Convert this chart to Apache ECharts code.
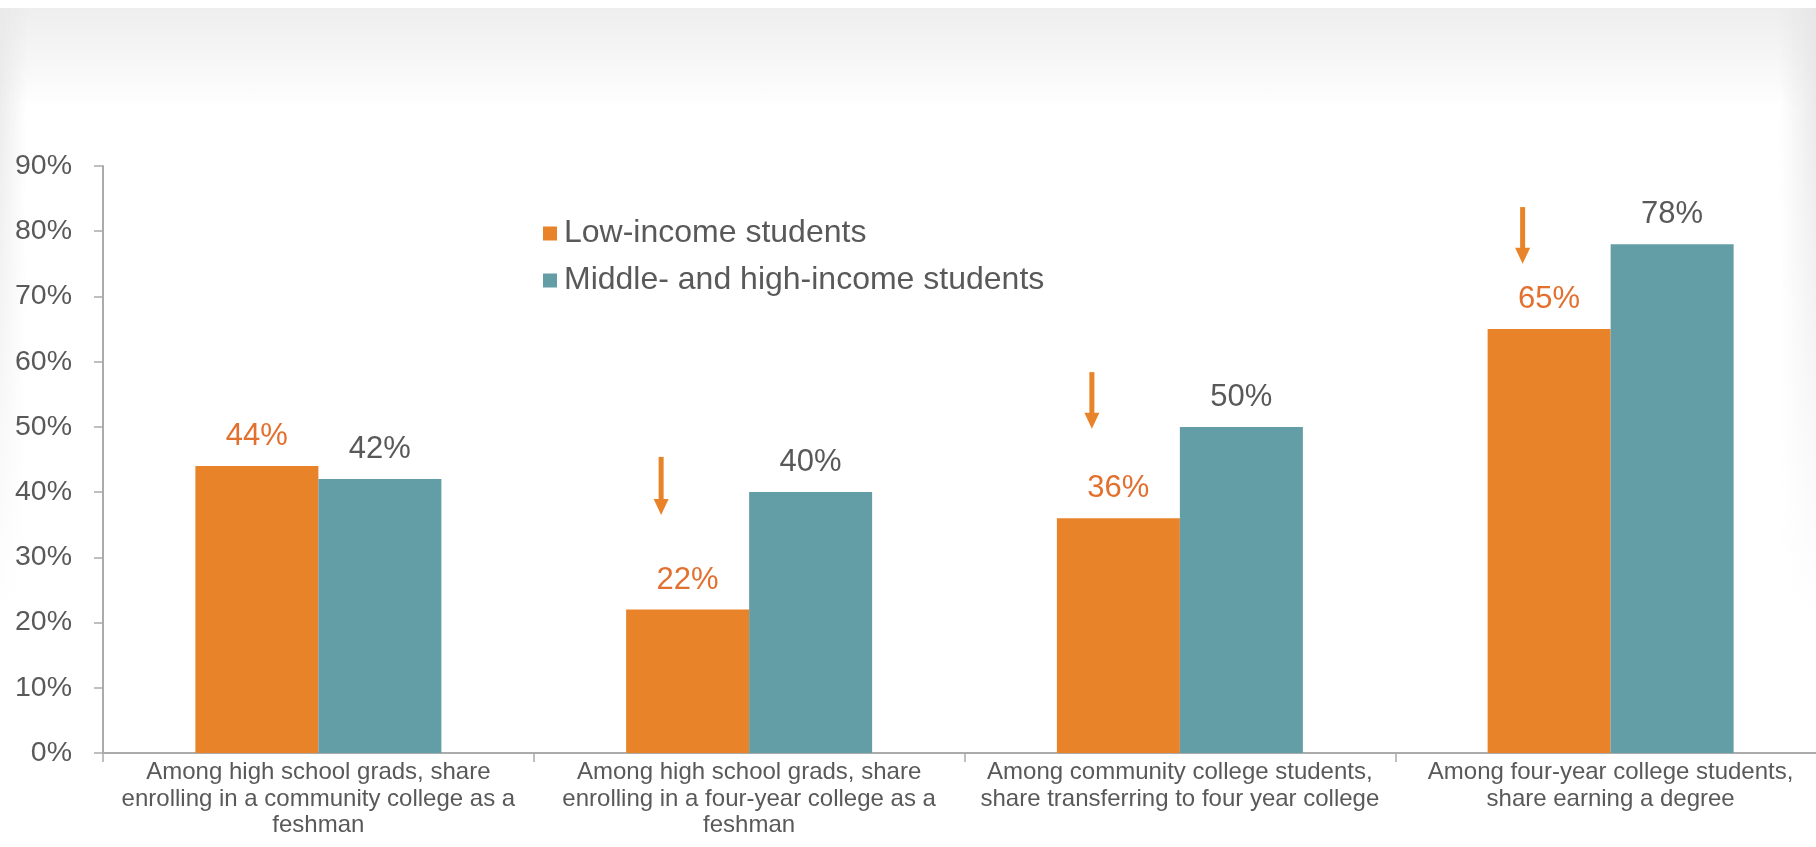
<!DOCTYPE html>
<html>
<head>
<meta charset="utf-8">
<title>College pathway shares by income</title>
<script src="https://cdn.jsdelivr.net/npm/echarts@6/dist/echarts.min.js"></script>
<style>
  html, body { margin: 0; padding: 0; background: #ffffff; }
  #stage { position: relative; width: 1816px; height: 847px; overflow: hidden; background: #ffffff; }
  .haze { position: absolute; pointer-events: none; }
  #hazeTop { left: 0; top: 8px; width: 1816px; height: 100px;
    background: linear-gradient(to bottom, #eeeeee 0%, #f5f5f5 45%, #ffffff 100%); }
  #hazeLeft { left: 0; top: 8px; width: 26px; height: 620px;
    background: linear-gradient(to right, #e9e9e9, rgba(255,255,255,0));
    -webkit-mask-image: linear-gradient(to bottom, #000 0%, rgba(0,0,0,0) 100%);
    mask-image: linear-gradient(to bottom, #000 0%, rgba(0,0,0,0) 100%); }
  #hazeRight { right: 0; top: 8px; width: 36px; height: 620px;
    background: linear-gradient(to left, #e6e6e6, rgba(255,255,255,0));
    -webkit-mask-image: linear-gradient(to bottom, #000 0%, rgba(0,0,0,0) 100%);
    mask-image: linear-gradient(to bottom, #000 0%, rgba(0,0,0,0) 100%); }
  #chart { position: absolute; left: 0; top: 0; width: 1816px; height: 847px; }
</style>
</head>
<body>
<div id="stage">
  <div class="haze" id="hazeTop"></div>
  <div class="haze" id="hazeLeft"></div>
  <div class="haze" id="hazeRight"></div>
  <div id="chart"></div>
</div>
<script>
// Pathway stages along the x axis
const categories = [
  'Among high school grads, share\nenrolling in a community college as a\nfeshman',
  'Among high school grads, share\nenrolling in a four-year college as a\nfeshman',
  'Among community college students,\nshare transferring to four year college',
  'Among four-year college students,\nshare earning a degree'
];

// Shares in percent
const lowIncome = [44, 22, 36, 65];
const midHighIncome = [42, 40, 50, 78];

// Y axis range and step (percent)
const yMin = 0;
const yMax = 90;
const yStep = 10;

// Downward call-out arrows over the low-income bars: [stage index, tail %, tip %]
const arrowStages = [1, 2, 3];
const arrowTail = [45.4, 58.4, 83.7];
const arrowTip = [36.5, 49.7, 75.0];

const ORANGE = '#E8832A';
const TEAL = '#639EA6';
const ORANGE_TEXT = '#E2702F';
const GRAY_TEXT = '#595959';
const AXIS_GRAY = '#ABABAB';
const FONT = '"Liberation Sans", Arial, Helvetica, sans-serif';

const arrowData = arrowStages.map((s, i) => [s, arrowTail[i], arrowTip[i]]);

const chart = echarts.init(document.getElementById('chart'), null, { renderer: 'canvas' });

chart.setOption({
  backgroundColor: 'transparent',
  animation: false,
  textStyle: { fontFamily: FONT },
  grid: { left: 103, right: -10, top: 166, bottom: 94, containLabel: false, outerBoundsMode: 'none' },
  legend: {
    orient: 'vertical',
    left: 538,
    top: 212,
    icon: 'rect',
    itemWidth: 14,
    itemHeight: 14,
    itemGap: 14,
    data: ['Low-income students', 'Middle- and high-income students'],
    textStyle: { fontFamily: FONT, fontSize: 32, lineHeight: 33, color: GRAY_TEXT, padding: [0, 0, 0, 2] }
  },
  xAxis: {
    type: 'category',
    data: categories,
    boundaryGap: true,
    axisLine: { show: true, lineStyle: { color: AXIS_GRAY, width: 2 } },
    axisTick: { show: true, length: 9, interval: 0, lineStyle: { color: AXIS_GRAY, width: 1.5 } },
    axisLabel: {
      interval: 0,
      margin: 6,
      fontFamily: FONT,
      fontSize: 24,
      lineHeight: 26.6,
      color: GRAY_TEXT,
      align: 'center'
    },
    splitLine: { show: false }
  },
  yAxis: {
    type: 'value',
    min: yMin,
    max: yMax,
    interval: yStep,
    axisLine: { show: true, lineStyle: { color: AXIS_GRAY, width: 2 } },
    axisTick: { show: true, length: 9, lineStyle: { color: AXIS_GRAY, width: 1.5 } },
    axisLabel: {
      formatter: '{value}%',
      margin: 31,
      fontFamily: FONT,
      fontSize: 28.5,
      color: GRAY_TEXT
    },
    splitLine: { show: false }
  },
  series: [
    {
      name: 'Low-income students',
      type: 'bar',
      data: lowIncome,
      barWidth: 123,
      barGap: '0%',
      itemStyle: { color: ORANGE },
      label: {
        show: true,
        position: 'top',
        distance: 14,
        formatter: p => Math.round(p.value) + '%',
        fontFamily: FONT,
        fontSize: 31,
        color: ORANGE_TEXT
      }
    },
    {
      name: 'Middle- and high-income students',
      type: 'bar',
      data: midHighIncome,
      barWidth: 123,
      barGap: '0%',
      itemStyle: { color: TEAL },
      label: {
        show: true,
        position: 'top',
        distance: 14,
        formatter: p => Math.round(p.value) + '%',
        fontFamily: FONT,
        fontSize: 31,
        color: GRAY_TEXT
      }
    },
    {
      name: 'arrows',
      type: 'custom',
      data: arrowData,
      encode: { x: 0, y: [1, 2] },
      silent: true,
      z: 5,
      renderItem: function (params, api) {
        const tail = api.coord([api.value(0), api.value(1)]);
        const tip = api.coord([api.value(0), api.value(2)]);
        const x = tail[0] - 88;
        const headLen = 16;
        const headHalf = 7.5;
        const shaftHalf = 2.5;
        return {
          type: 'group',
          children: [
            {
              type: 'rect',
              shape: { x: x - shaftHalf, y: tail[1], width: shaftHalf * 2, height: tip[1] - headLen - tail[1] + 1 },
              style: { fill: ORANGE }
            },
            {
              type: 'polygon',
              shape: { points: [[x - headHalf, tip[1] - headLen], [x + headHalf, tip[1] - headLen], [x, tip[1]]] },
              style: { fill: ORANGE }
            }
          ]
        };
      }
    }
  ]
});
</script>
</body>
</html>
